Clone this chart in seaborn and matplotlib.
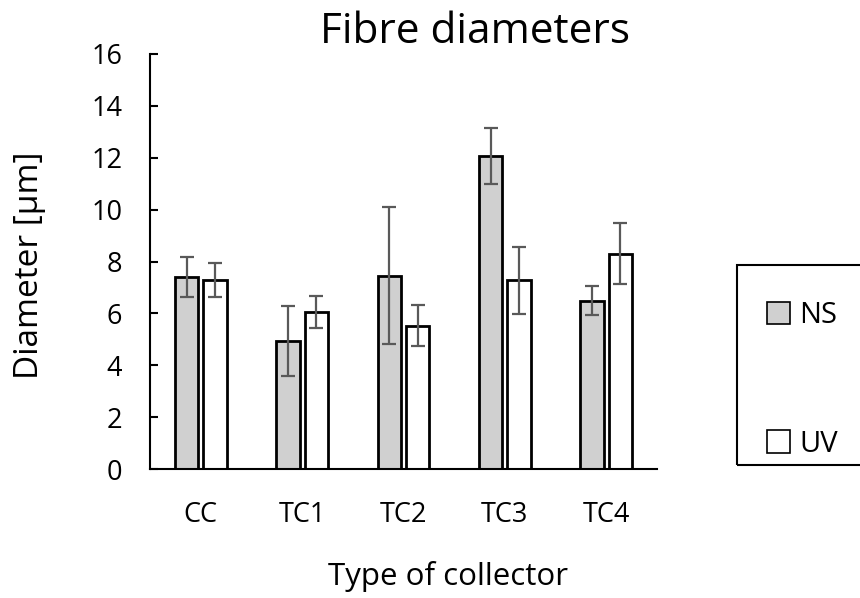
import matplotlib
matplotlib.use("Agg")
import matplotlib.pyplot as plt
from matplotlib.patches import Rectangle, Patch
import seaborn as sns
import pandas as pd
import numpy as np

categories = ["CC", "TC1", "TC2", "TC3", "TC4"]
ns_means = [7.42, 4.94, 7.45, 12.06, 6.49]
ns_err = [0.77, 1.35, 2.64, 1.07, 0.56]
uv_means = [7.30, 6.06, 5.53, 7.27, 8.30]
uv_err = [0.65, 0.61, 0.79, 1.30, 1.17]
series = ["NS", "UV"]
yticks = [0, 2, 4, 6, 8, 10, 12, 14, 16]

sns.set_theme(style="white")
plt.rcParams["font.family"] = ["Open Sans", "DejaVu Sans"]
plt.rcParams["text.color"] = "black"
plt.rcParams["xtick.color"] = "black"
plt.rcParams["ytick.color"] = "black"
plt.rcParams["xtick.labelcolor"] = "black"
plt.rcParams["ytick.labelcolor"] = "black"

df = pd.DataFrame({
    "collector": categories * 2,
    "series": ["NS"] * len(categories) + ["UV"] * len(categories),
    "value": ns_means + uv_means,
})
errs = {"NS": ns_err, "UV": uv_err}

fig = plt.figure(figsize=(8.6, 5.98), dpi=100)
ax = fig.add_axes([150 / 860, 1 - 469 / 598, (657 - 150) / 860, (469 - 54) / 598])

palette = {"NS": "#d0d0d0", "UV": "#ffffff"}
sns.barplot(data=df, x="collector", y="value", hue="series", order=categories,
            hue_order=series, palette=palette, edgecolor="black", linewidth=2,
            width=0.56, gap=0.18, legend=False, errorbar=None, ax=ax, saturation=1)

bars = [p for p in ax.patches if isinstance(p, Rectangle)]
n = len(categories)
for i, s in enumerate(series):
    for j in range(n):
        p = bars[i * n + j]
        xc = p.get_x() + p.get_width() / 2
        ax.errorbar(xc, p.get_height(), yerr=errs[s][j], fmt="none",
                    ecolor="#595959", elinewidth=1.6, capsize=5, capthick=1.6, zorder=5)

ax.set_xlim(-0.5, 4.5)
ax.set_ylim(0, 16)
ax.set_yticks(yticks)
ax.set_yticklabels([str(t) for t in yticks])
ax.set_xticks(range(n))
ax.set_xticklabels(categories)
ax.set_xticks(np.arange(-0.5, n, 1.0), minor=True)
ax.tick_params(axis="x", which="major", length=0, pad=23, labelsize=19.5)
ax.tick_params(axis="x", which="minor", direction="in", length=6, width=1.5, color="black")
ax.tick_params(axis="y", which="major", direction="in", length=6, width=1.5, color="black", pad=20, labelsize=19.5, left=True)
ax.set_xlabel("")
ax.set_ylabel("")

for side in ["top", "right"]:
    ax.spines[side].set_visible(False)
for side in ["left", "bottom"]:
    ax.spines[side].set_color("black")
    ax.spines[side].set_linewidth(1.5)

fig.text(475 / 860, 1 - 32 / 598, "Fibre diameters", ha="center", va="center", fontsize=30.5)
fig.text(448 / 860, 1 - 576 / 598, "Type of collector", ha="center", va="center", fontsize=22.5)
fig.text(30 / 860, 1 - 265 / 598, "Diameter [µm]", ha="center", va="center", rotation=90, fontsize=24)

# legend frame
fig.patches.append(Rectangle((737 / 860, 1 - 465 / 598), 0.2, (465 - 265) / 598,
                             transform=fig.transFigure, fill=False, edgecolor="black",
                             linewidth=1.5))
handles = [Patch(facecolor=palette[s], edgecolor="black", linewidth=1.2) for s in series]
fig.legend(handles, series, loc="center left", bbox_to_anchor=(767 / 860, 1 - 380 / 598),
           frameon=False, fontsize=21, handlelength=0.8, handleheight=0.8,
           handletextpad=0.3, labelspacing=3.4, borderaxespad=0, borderpad=0)

fig.savefig("out.png", dpi=100)
